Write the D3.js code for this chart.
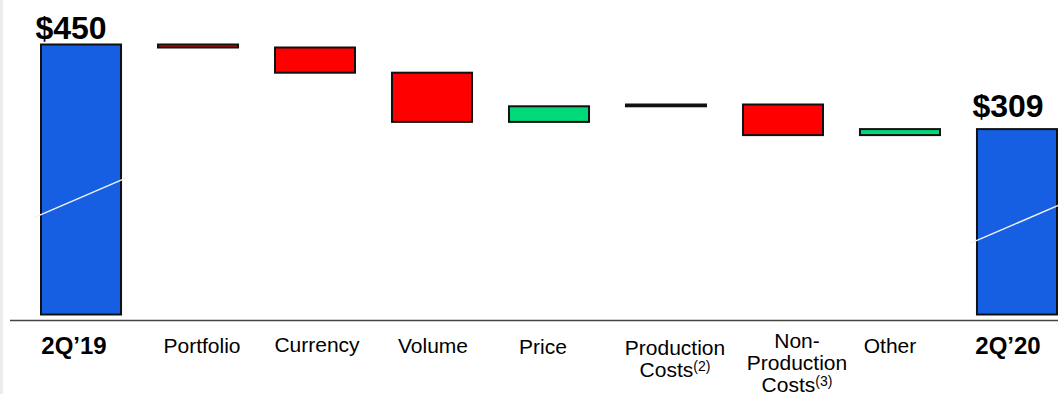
<!DOCTYPE html>
<html>
<head>
<meta charset="utf-8">
<script src="https://cdn.jsdelivr.net/npm/d3@7"></script>
<style>
  html, body { margin: 0; padding: 0; background: #ffffff; }
  svg { display: block; }
  text { font-family: "Liberation Sans", Arial, Helvetica, sans-serif; fill: #000; }
</style>
</head>
<body>
<svg id="chart" width="1058" height="394"></svg>
<script>
// Quarter-over-quarter bridge, $ millions
const categories = ["2Q’19", "Portfolio", "Currency", "Volume", "Price",
                    "Production Costs", "Non-Production Costs", "Other", "2Q’20"];
const labelLines = [["2Q’19"], ["Portfolio"], ["Currency"], ["Volume"], ["Price"],
                    ["Production", "Costs"], ["Non-", "Production", "Costs"], ["Other"], ["2Q’20"]];
const footnotes = ["", "", "", "", "", "(2)", "(3)", "", ""];
const kinds = ["total", "delta", "delta", "delta", "delta", "delta", "delta", "delta", "total"];
const values = [450, -5, -42, -82, 26, 3, -51, 10, 309];
const valueLabels = ["$450", "", "", "", "", "", "", "", "$309"];

// Running start/end for every step of the bridge
let running = 0;
const steps = values.map((v, i) => {
  let start, end;
  if (kinds[i] === "total") { start = 0; end = v; running = v; }
  else { start = running; end = running + v; running = end; }
  return { cat: categories[i], kind: kinds[i], value: v, start, end, i };
});

const svg = d3.select("#chart");
const W = 1058, H = 394;

// thin grey strip down the left edge
svg.append("rect").attr("x", 0).attr("y", 0).attr("width", 3).attr("height", H).attr("fill", "#ececec");

const x = d3.scaleBand().domain(categories).range([41, 1057]).paddingInner(0.316).paddingOuter(0);
const y = d3.scaleLinear().domain([0, 450]).range([314.5, 44.5]);

const colour = d => d.kind === "total" ? "#165FE3" : (d.value < 0 ? "#FF0000" : "#00D97A");

// baseline
svg.append("line")
  .attr("x1", 10).attr("x2", W).attr("y1", 320.5).attr("y2", 320.5)
  .attr("stroke", "#444").attr("stroke-width", 1.5);

// bars
svg.append("g").selectAll("rect").data(steps).join("rect")
  .attr("x", d => x(d.cat))
  .attr("width", x.bandwidth())
  .attr("y", d => y(Math.max(d.start, d.end)))
  .attr("height", d => Math.abs(y(d.start) - y(d.end)))
  .attr("fill", colour)
  .attr("stroke", "#111")
  .attr("stroke-width", 2);

// white slanted stroke across each total bar
const slashLift = { "2Q’19": 0.37, "2Q’20": 0.40 };
const totals = steps.filter(d => d.kind === "total");
svg.append("g").selectAll("line").data(totals).join("line")
  .attr("x1", d => x(d.cat) - 7)
  .attr("x2", d => x(d.cat) + x.bandwidth() + 7)
  .attr("y1", d => y(d.end * slashLift[d.cat]) + 7 * 0.43)
  .attr("y2", d => y(d.end * slashLift[d.cat]) - (x.bandwidth() + 7) * 0.43)
  .attr("stroke", "#f2f2f2").attr("stroke-width", 1.5);

// value labels above the totals
const valueShift = { "2Q’19": [-10, 5.5], "2Q’20": [-9, 12] };
svg.append("g").selectAll("text").data(totals).join("text")
  .attr("x", d => x(d.cat) + x.bandwidth() / 2 + valueShift[d.cat][0])
  .attr("y", d => y(d.end) - valueShift[d.cat][1])
  .attr("text-anchor", "middle")
  .attr("font-weight", "bold")
  .attr("font-size", 32)
  .text(d => valueLabels[d.i]);

// category labels under the baseline
const labelDx = [-7, 4, 2, 1, -6, 9, 14, -10, -9];
const labelTop = [354, 353, 352, 353, 354, 355, 348, 353, 354];
const lineGap = 22;
const labels = svg.append("g").selectAll("g").data(steps).join("g");
labels.each(function (d) {
  const g = d3.select(this);
  const lines = labelLines[d.i];
  const cx = x(d.cat) + x.bandwidth() / 2 + labelDx[d.i];
  lines.forEach((ln, k) => {
    const t = g.append("text")
      .attr("x", cx)
      .attr("y", labelTop[d.i] + k * lineGap)
      .attr("text-anchor", "middle")
      .attr("font-size", d.kind === "total" ? 24 : 21)
      .attr("font-weight", d.kind === "total" ? "bold" : "normal");
    t.append("tspan").text(ln);
    if (k === lines.length - 1 && footnotes[d.i]) {
      t.append("tspan").attr("font-size", 14).attr("dy", -6).text(footnotes[d.i]);
    }
  });
});
</script>
</body>
</html>
